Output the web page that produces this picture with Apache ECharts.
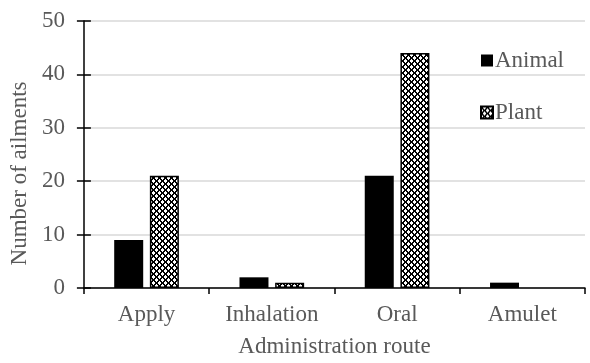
<!DOCTYPE html>
<html>
<head>
<meta charset="utf-8">
<script src="https://cdn.jsdelivr.net/npm/echarts@6/dist/echarts.min.js"></script>
<style>html,body{margin:0;padding:0;background:#fff}#c{width:590px;height:363px}</style>
</head>
<body>
<div id="c"></div>
<script>
var categories = ['Apply', 'Inhalation', 'Oral', 'Amulet'];
var animalValues = [9, 2, 21, 1];
var plantValues = [21, 1, 44, 0];
var yMin = 0, yMax = 50, yInterval = 10;

var FONT = "'Liberation Serif', 'Times New Roman', serif";
var TXT = '#595959';

function makePattern() {
  var n = 6;
  var c = document.createElement('canvas');
  c.width = n; c.height = n;
  var ctx = c.getContext('2d');
  ctx.fillStyle = '#fff';
  ctx.fillRect(0, 0, n, n);
  ctx.fillStyle = '#000';
  for (var x = 0; x < n; x++) {
    for (var y = 0; y < n; y++) {
      var a = (x + y) % n, b = (x - y + 2 * n) % n;
      if (a === 0 || a === 1 || b === 0 || b === 5) ctx.fillRect(x, y, 1, 1);
    }
  }
  return c;
}

var pattern = makePattern();
var plantData = plantValues.map(function (v) {
  return v === 0 ? {value: v, itemStyle: {borderWidth: 0}} : v;
});

var chart = echarts.init(document.getElementById('c'), null, {renderer: 'canvas'});
var baseY = {
  type: 'value', min: yMin, max: yMax, interval: yInterval, position: 'left'
};
chart.setOption({
  animation: false,
  textStyle: {fontFamily: FONT},
  grid: {left: 80, right: 5, top: 21, bottom: 75, containLabel: false},
  legend: {
    orient: 'vertical', left: 475, top: 44, itemGap: 29,
    itemWidth: 12, itemHeight: 12, icon: 'rect',
    textStyle: {fontFamily: FONT, fontSize: 23, color: TXT, padding: [0, 0, 0, -3]},
    data: ['Animal', 'Plant']
  },
  xAxis: {
    type: 'category', data: categories,
    name: 'Administration route', nameLocation: 'middle', nameGap: 47,
    nameTextStyle: {fontFamily: FONT, fontSize: 23, color: TXT},
    axisLine: {lineStyle: {color: '#000', width: 1.5}},
    axisTick: {show: true, length: 6, lineStyle: {color: '#000', width: 1.5}},
    axisLabel: {fontFamily: FONT, fontSize: 23, color: TXT, margin: 15}
  },
  yAxis: [
    Object.assign({}, baseY, {
      name: 'Number of ailments', nameLocation: 'middle', nameGap: 46,
      nameTextStyle: {fontFamily: FONT, fontSize: 23, color: TXT, padding: [0, 38, 0, 0]},
      axisLine: {show: true, lineStyle: {color: '#000', width: 1.5}},
      axisTick: {show: true, length: 7, lineStyle: {color: '#000', width: 1.5}},
      axisLabel: {fontFamily: FONT, fontSize: 23, color: TXT, margin: 19},
      splitLine: {show: true, lineStyle: {color: '#d9d9d9', width: 1.5}}
    }),
    Object.assign({}, baseY, {
      axisLine: {show: false},
      axisTick: {show: true, inside: true, length: 7, lineStyle: {color: '#000', width: 1.5}},
      axisLabel: {show: false},
      splitLine: {show: false}
    })
  ],
  series: [
    {
      name: 'Animal', type: 'bar', data: animalValues, barWidth: 29, barGap: '23%',
      itemStyle: {color: '#000'}
    },
    {
      name: 'Plant', type: 'bar', data: plantData, barWidth: 29,
      itemStyle: {color: {image: pattern, repeat: 'repeat'}, borderColor: '#000', borderWidth: 1.5}
    }
  ]
});
</script>
</body>
</html>
